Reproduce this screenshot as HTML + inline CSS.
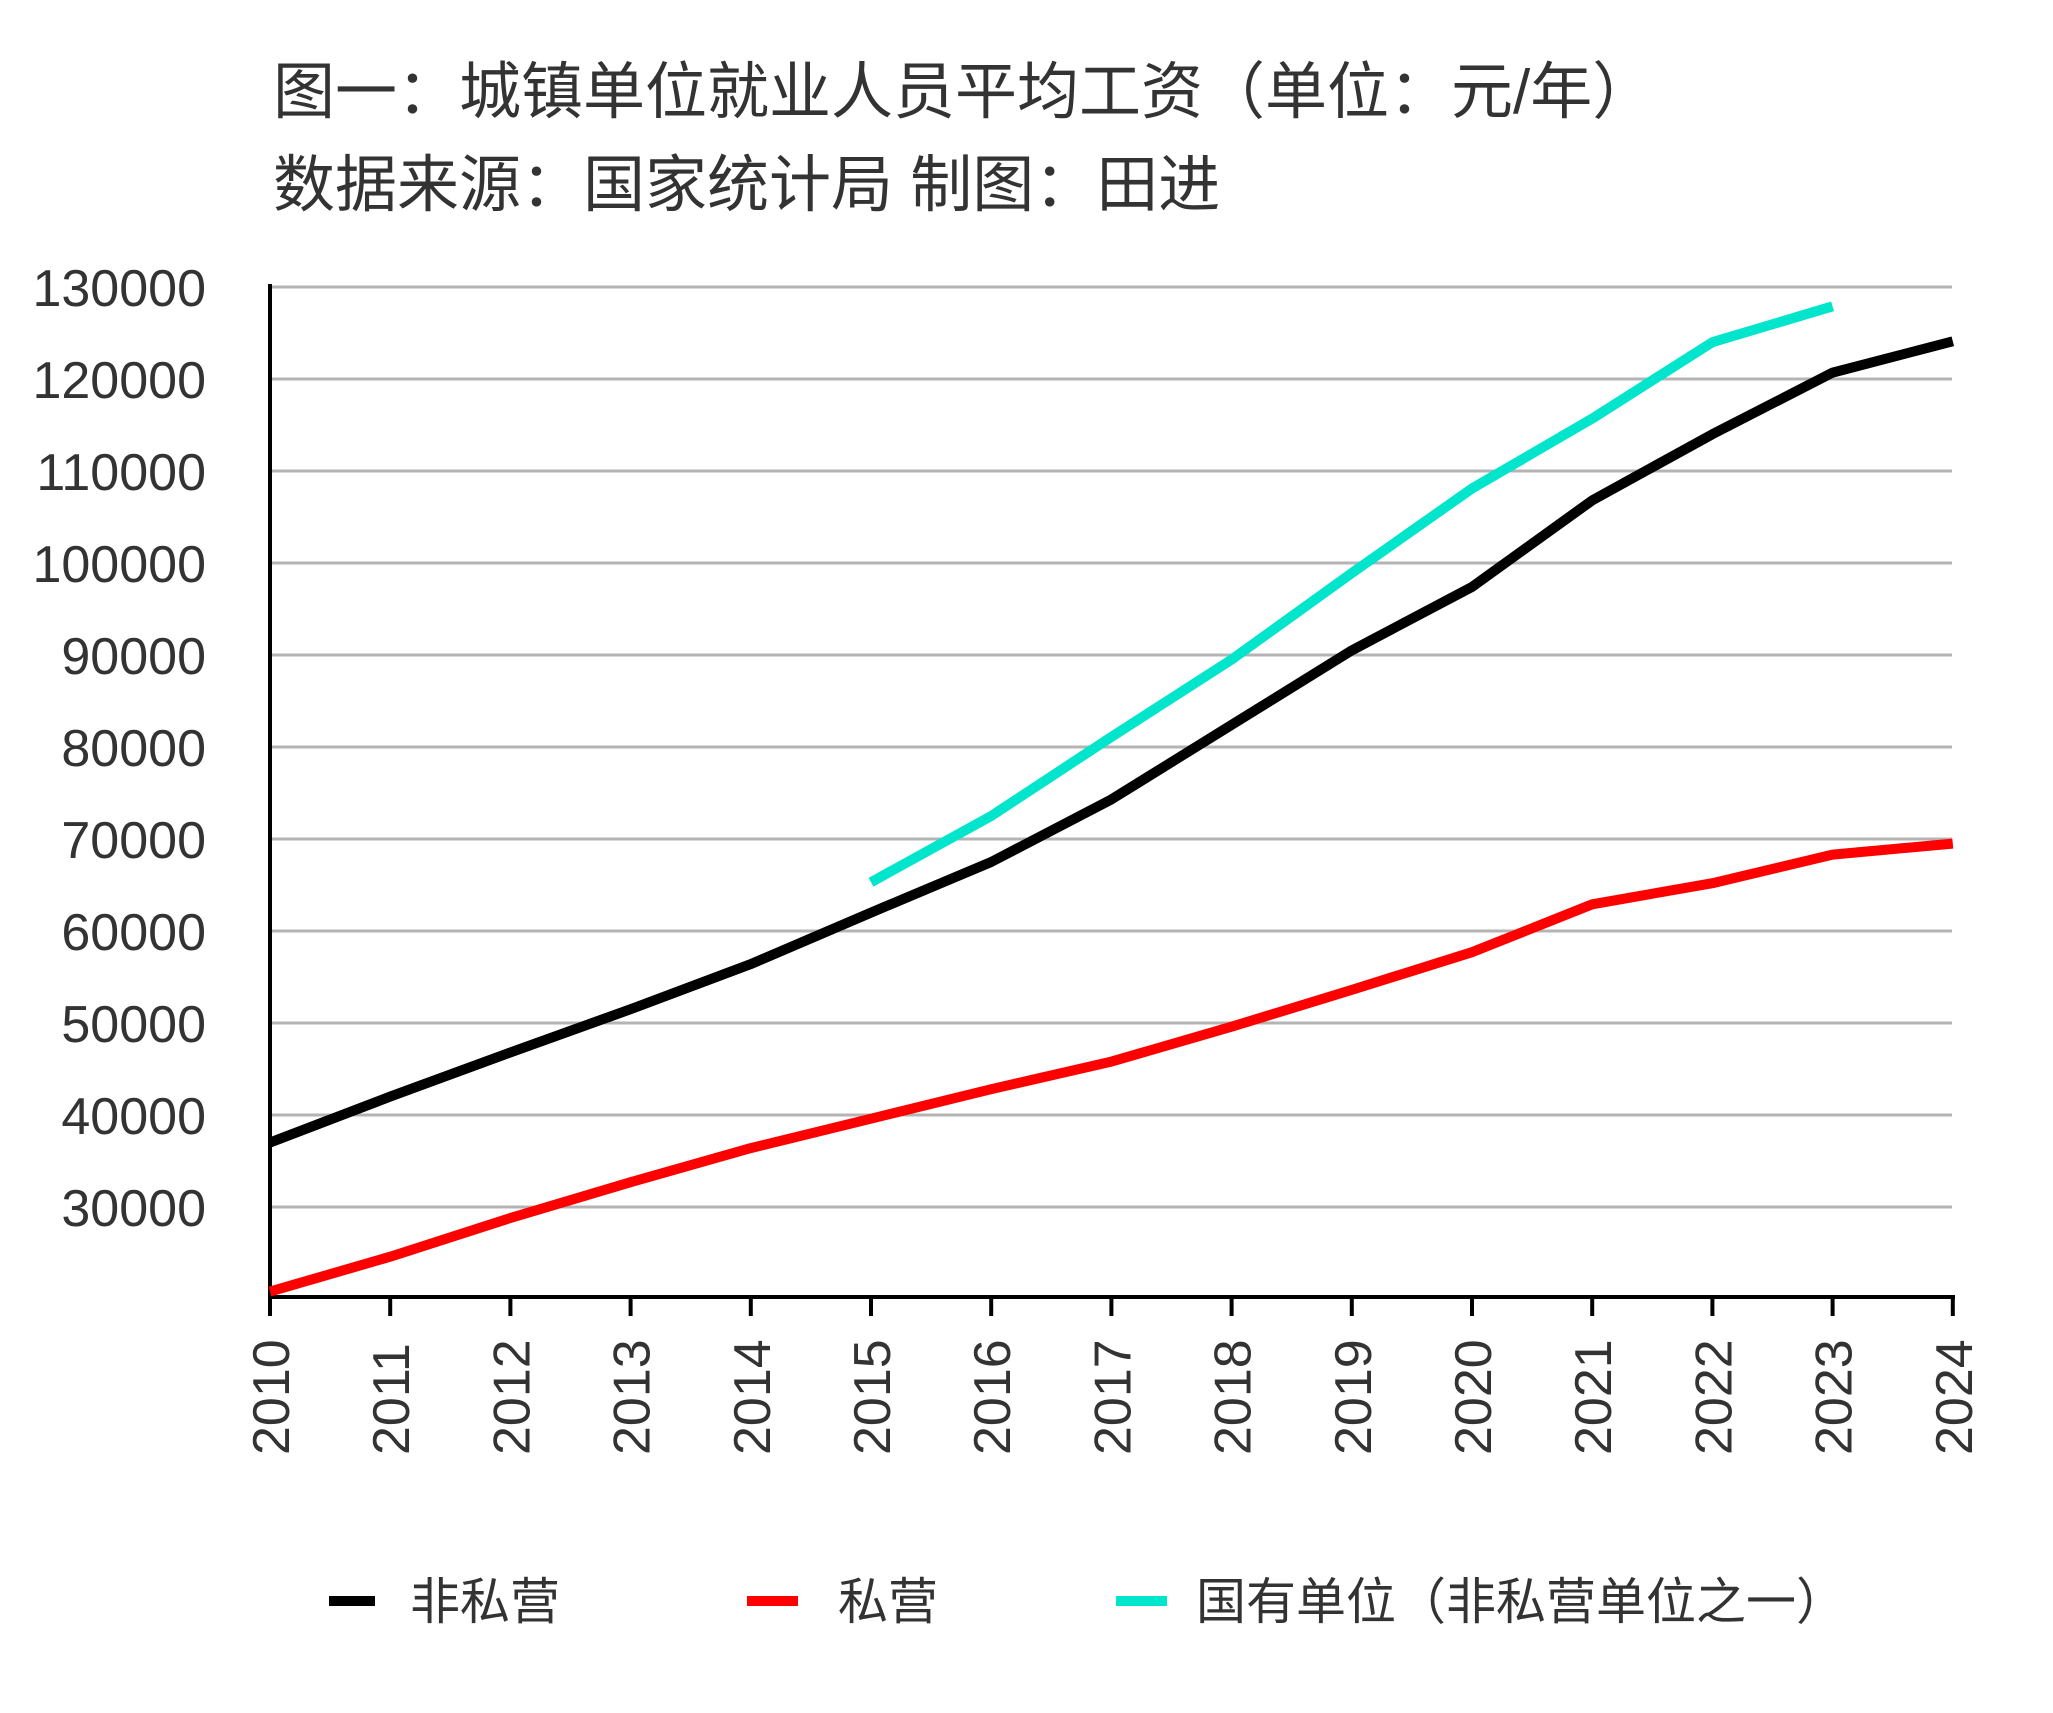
<!DOCTYPE html>
<html><head><meta charset="utf-8"><style>
html,body{margin:0;padding:0;background:#fff;}
svg{display:block;}
text{font-family:"Liberation Sans","Noto Sans CJK SC",sans-serif;}
</style></head><body>
<svg width="2053" height="1713" viewBox="0 0 2053 1713" xmlns="http://www.w3.org/2000/svg">
<rect width="2053" height="1713" fill="#fff"/>
<text x="273" y="113" font-size="62" fill="#333">图一：城镇单位就业人员平均工资（单位：元/年）</text>
<text x="273" y="206" font-size="62" fill="#333">数据来源：国家统计局 制图：田进</text>
<g stroke="#b4b4b4" stroke-width="3">
<line x1="272" x2="1952" y1="287" y2="287"/>
<line x1="272" x2="1952" y1="379" y2="379"/>
<line x1="272" x2="1952" y1="471" y2="471"/>
<line x1="272" x2="1952" y1="563" y2="563"/>
<line x1="272" x2="1952" y1="655" y2="655"/>
<line x1="272" x2="1952" y1="747" y2="747"/>
<line x1="272" x2="1952" y1="839" y2="839"/>
<line x1="272" x2="1952" y1="931" y2="931"/>
<line x1="272" x2="1952" y1="1023" y2="1023"/>
<line x1="272" x2="1952" y1="1115" y2="1115"/>
<line x1="272" x2="1952" y1="1207" y2="1207"/>
</g>
<g font-size="52" fill="#333" text-anchor="end">
<text x="206" y="306">130000</text>
<text x="206" y="398">120000</text>
<text x="206" y="490">110000</text>
<text x="206" y="582">100000</text>
<text x="206" y="674">90000</text>
<text x="206" y="766">80000</text>
<text x="206" y="858">70000</text>
<text x="206" y="950">60000</text>
<text x="206" y="1042">50000</text>
<text x="206" y="1134">40000</text>
<text x="206" y="1226">30000</text>
</g>
<line x1="270" y1="284" x2="270" y2="1299" stroke="#000" stroke-width="4"/>
<line x1="268" y1="1297" x2="1955" y2="1297" stroke="#000" stroke-width="4"/>
<g stroke="#000" stroke-width="4">
<line x1="270" x2="270" y1="1297" y2="1316"/>
<line x1="390.2" x2="390.2" y1="1297" y2="1316"/>
<line x1="510.4" x2="510.4" y1="1297" y2="1316"/>
<line x1="630.6" x2="630.6" y1="1297" y2="1316"/>
<line x1="750.8" x2="750.8" y1="1297" y2="1316"/>
<line x1="871" x2="871" y1="1297" y2="1316"/>
<line x1="991.2" x2="991.2" y1="1297" y2="1316"/>
<line x1="1111.4" x2="1111.4" y1="1297" y2="1316"/>
<line x1="1231.6" x2="1231.6" y1="1297" y2="1316"/>
<line x1="1351.8" x2="1351.8" y1="1297" y2="1316"/>
<line x1="1472" x2="1472" y1="1297" y2="1316"/>
<line x1="1592.2" x2="1592.2" y1="1297" y2="1316"/>
<line x1="1712.4" x2="1712.4" y1="1297" y2="1316"/>
<line x1="1832.6" x2="1832.6" y1="1297" y2="1316"/>
<line x1="1952.8" x2="1952.8" y1="1297" y2="1316"/>
</g>
<g font-size="52" fill="#333">
<text transform="translate(289,1455) rotate(-90)">2010</text>
<text transform="translate(409.2,1455) rotate(-90)">2011</text>
<text transform="translate(529.4,1455) rotate(-90)">2012</text>
<text transform="translate(649.6,1455) rotate(-90)">2013</text>
<text transform="translate(769.8,1455) rotate(-90)">2014</text>
<text transform="translate(890,1455) rotate(-90)">2015</text>
<text transform="translate(1010.2,1455) rotate(-90)">2016</text>
<text transform="translate(1130.4,1455) rotate(-90)">2017</text>
<text transform="translate(1250.6,1455) rotate(-90)">2018</text>
<text transform="translate(1370.8,1455) rotate(-90)">2019</text>
<text transform="translate(1491,1455) rotate(-90)">2020</text>
<text transform="translate(1611.2,1455) rotate(-90)">2021</text>
<text transform="translate(1731.4,1455) rotate(-90)">2022</text>
<text transform="translate(1851.6,1455) rotate(-90)">2023</text>
<text transform="translate(1971.8,1455) rotate(-90)">2024</text>
</g>
<polyline fill="none" stroke="#ff0000" stroke-width="10" stroke-linejoin="round" points="270,1291.6 390.2,1256.7 510.4,1218 630.6,1182.2 750.8,1148.1 871,1118.7 991.2,1089.2 1111.4,1061.6 1231.6,1026.7 1351.8,989.9 1472,952.2 1592.2,904.3 1712.4,883.2 1832.6,854.6 1952.8,843.6"/>
<polyline fill="none" stroke="#000" stroke-width="10" stroke-linejoin="round" points="270,1142.6 390.2,1096.6 510.4,1052.4 630.6,1009.2 750.8,964.1 871,912.6 991.2,862 1111.4,799.4 1231.6,724.9 1351.8,650.4 1472,586.9 1592.2,500.4 1712.4,434.2 1832.6,372.6 1952.8,341.3"/>
<polyline fill="none" stroke="#00e5cc" stroke-width="10" stroke-linejoin="round" points="871,882.2 991.2,816 1111.4,736.9 1231.6,659.6 1351.8,573.1 1472,488.5 1592.2,418.6 1712.4,342.2 1832.6,306.3"/>
<line x1="329" x2="375" y1="1601" y2="1601" stroke="#000" stroke-width="10"/>
<text x="410" y="1619" font-size="50" fill="#333">非私营</text>
<line x1="747" x2="798" y1="1601" y2="1601" stroke="#ff0000" stroke-width="10"/>
<text x="838" y="1619" font-size="50" fill="#333">私营</text>
<line x1="1116" x2="1167" y1="1601" y2="1601" stroke="#00e5cc" stroke-width="10"/>
<text x="1196" y="1619" font-size="50" fill="#333">国有单位（非私营单位之一）</text>
</svg>
</body></html>
